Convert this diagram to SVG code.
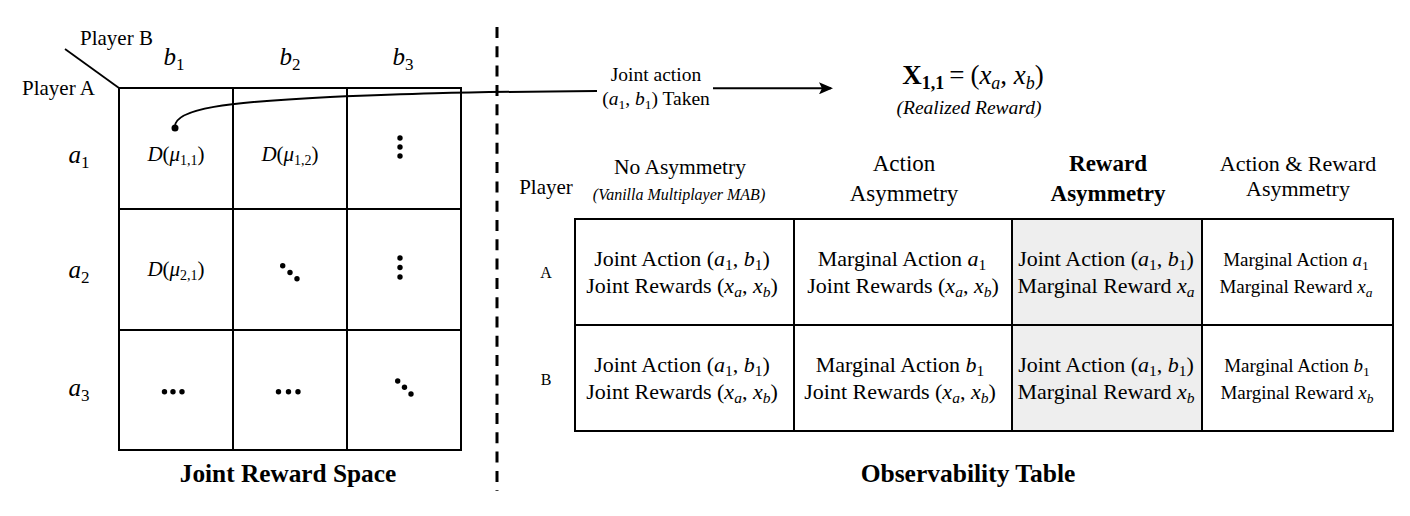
<svg xmlns="http://www.w3.org/2000/svg" width="1410" height="516" viewBox="0 0 1410 516">
<style>
.t{font-family:"Liberation Serif","Times New Roman",serif;fill:#000}
.m{font-family:"Liberation Serif","Times New Roman",serif;font-style:italic;fill:#000}
.ln{stroke:#000;stroke-width:2;fill:none}
.b{font-weight:bold}
</style>
<defs>
<marker id="ah" markerWidth="14" markerHeight="12" refX="12" refY="6" orient="auto" markerUnits="userSpaceOnUse">
<path d="M0,0 L14,6 L0,12 L3,6 Z" fill="#000"/>
</marker>
</defs>
<rect width="1410" height="516" fill="#fff"/>

<g id="divider">
<line x1="497" y1="27" x2="497" y2="491" stroke="#000" stroke-width="3" stroke-dasharray="11 8.3"/>
</g>

<g id="joint-reward-space">
<line x1="65" y1="49" x2="119" y2="88" stroke="#000" stroke-width="1.8"/>
<text class="t" x="80" y="45" font-size="21">Player B</text>
<text class="t" x="22" y="95" font-size="21">Player A</text>
<text class="m" x="174" y="65" font-size="25" text-anchor="middle">b<tspan font-style="normal" font-size="17" dy="5">1</tspan></text>
<text class="m" x="290" y="65" font-size="25" text-anchor="middle">b<tspan font-style="normal" font-size="17" dy="5">2</tspan></text>
<text class="m" x="403" y="65" font-size="25" text-anchor="middle">b<tspan font-style="normal" font-size="17" dy="5">3</tspan></text>
<text class="m" x="79" y="163" font-size="25" text-anchor="middle">a<tspan font-style="normal" font-size="17" dy="5">1</tspan></text>
<text class="m" x="79" y="278" font-size="25" text-anchor="middle">a<tspan font-style="normal" font-size="17" dy="5">2</tspan></text>
<text class="m" x="79" y="396" font-size="25" text-anchor="middle">a<tspan font-style="normal" font-size="17" dy="5">3</tspan></text>
<rect x="119" y="88" width="342" height="362" class="ln"/>
<line x1="233" y1="88" x2="233" y2="450" class="ln"/>
<line x1="347" y1="88" x2="347" y2="450" class="ln"/>
<line x1="119" y1="209" x2="461" y2="209" class="ln"/>
<line x1="119" y1="330" x2="461" y2="330" class="ln"/>
<text class="m" x="176" y="161" font-size="21" text-anchor="middle">D<tspan font-style="normal">(</tspan>μ<tspan font-style="normal" font-size="14" dy="4">1,1</tspan><tspan font-style="normal" dy="-4">)</tspan></text>
<text class="m" x="290" y="161" font-size="21" text-anchor="middle">D<tspan font-style="normal">(</tspan>μ<tspan font-style="normal" font-size="14" dy="4">1,2</tspan><tspan font-style="normal" dy="-4">)</tspan></text>
<text class="m" x="176" y="276" font-size="21" text-anchor="middle">D<tspan font-style="normal">(</tspan>μ<tspan font-style="normal" font-size="14" dy="4">2,1</tspan><tspan font-style="normal" dy="-4">)</tspan></text>
<g fill="#000">
<circle cx="400" cy="138" r="2.7"/><circle cx="400" cy="147" r="2.7"/><circle cx="400" cy="156" r="2.7"/>
<circle cx="282.7" cy="265.7" r="2.7"/><circle cx="290" cy="272.5" r="2.7"/><circle cx="297" cy="278.7" r="2.7"/>
<circle cx="400" cy="258" r="2.7"/><circle cx="400" cy="267.5" r="2.7"/><circle cx="400" cy="277" r="2.7"/>
<circle cx="164.5" cy="391.7" r="2.7"/><circle cx="173" cy="391.7" r="2.7"/><circle cx="182" cy="391.7" r="2.7"/>
<circle cx="278.5" cy="391.7" r="2.7"/><circle cx="288.5" cy="391.7" r="2.7"/><circle cx="298" cy="391.7" r="2.7"/>
<circle cx="397.7" cy="381" r="2.7"/><circle cx="404.5" cy="387.3" r="2.7"/><circle cx="411" cy="394" r="2.7"/>
</g>
<text class="t b" x="288" y="482" font-size="25.3" text-anchor="middle">Joint Reward Space</text>
</g>

<g id="connectors">
<circle cx="175" cy="128" r="3.5" fill="#000"/>
<path d="M175,128 C172,108 230,102 330,97 C400,94 450,92 597,91" class="ln"/>
<line x1="713" y1="88.3" x2="831" y2="88.3" stroke="#000" stroke-width="2" marker-end="url(#ah)"/>
</g>

<g id="action-label">
<text class="t" x="656" y="81" font-size="19.5" text-anchor="middle">Joint action</text>
<text class="t" x="656" y="105" font-size="19.5" text-anchor="middle"><tspan>(</tspan><tspan class="m">a</tspan><tspan font-size="13.5" dy="4">1</tspan><tspan dy="-4">, </tspan><tspan class="m">b</tspan><tspan font-size="13.5" dy="4">1</tspan><tspan dy="-4">) Taken</tspan></text>
</g>

<g id="realized-reward">
<text class="t" x="973" y="84" font-size="27" text-anchor="middle"><tspan font-weight="bold">X</tspan><tspan font-weight="bold" font-size="18" dy="5">1,1</tspan><tspan dy="-5" dx="5">=</tspan><tspan dx="6">(</tspan><tspan class="m">x</tspan><tspan class="m" font-size="18" dy="5">a</tspan><tspan dy="-5">, </tspan><tspan class="m">x</tspan><tspan class="m" font-size="18" dy="5">b</tspan><tspan dy="-5">)</tspan></text>
<text class="m" x="969" y="114" font-size="19.5" text-anchor="middle">(Realized Reward)</text>
</g>

<g id="observability-table">
<rect x="1012" y="219" width="190" height="212" fill="#eeeeee"/>
<rect x="575" y="219" width="818" height="212" class="ln"/>
<line x1="794" y1="219" x2="794" y2="431" class="ln"/>
<line x1="1012" y1="219" x2="1012" y2="431" class="ln"/>
<line x1="1202" y1="219" x2="1202" y2="431" class="ln"/>
<line x1="575" y1="325" x2="1393" y2="325" class="ln"/>

<text class="t" x="546" y="194" font-size="21" text-anchor="middle">Player</text>
<text class="t" x="546" y="278" font-size="16" text-anchor="middle">A</text>
<text class="t" x="546" y="385" font-size="16" text-anchor="middle">B</text>

<text class="t" x="680" y="174" font-size="21.5" text-anchor="middle">No Asymmetry</text>
<text class="m" x="679" y="200" font-size="16" text-anchor="middle">(Vanilla Multiplayer MAB)</text>
<text class="t" x="904" y="171" font-size="23" text-anchor="middle">Action</text>
<text class="t" x="904" y="201" font-size="23" text-anchor="middle">Asymmetry</text>
<text class="t b" x="1108" y="171" font-size="23" text-anchor="middle">Reward</text>
<text class="t b" x="1108" y="201" font-size="23" text-anchor="middle">Asymmetry</text>
<text class="t" x="1298" y="171" font-size="22" text-anchor="middle">Action &amp; Reward</text>
<text class="t" x="1298" y="196" font-size="22" text-anchor="middle">Asymmetry</text>

<g font-size="22">
<text class="t" x="682" y="266" text-anchor="middle">Joint Action (<tspan class="m">a</tspan><tspan font-size="15.5" dy="4">1</tspan><tspan dy="-4">, </tspan><tspan class="m">b</tspan><tspan font-size="15.5" dy="4">1</tspan><tspan dy="-4">)</tspan></text>
<text class="t" x="682" y="293" text-anchor="middle">Joint Rewards (<tspan class="m">x</tspan><tspan class="m" font-size="15.5" dy="4">a</tspan><tspan dy="-4">, </tspan><tspan class="m">x</tspan><tspan class="m" font-size="15.5" dy="4">b</tspan><tspan dy="-4">)</tspan></text>
<text class="t" x="682" y="372" text-anchor="middle">Joint Action (<tspan class="m">a</tspan><tspan font-size="15.5" dy="4">1</tspan><tspan dy="-4">, </tspan><tspan class="m">b</tspan><tspan font-size="15.5" dy="4">1</tspan><tspan dy="-4">)</tspan></text>
<text class="t" x="682" y="399" text-anchor="middle">Joint Rewards (<tspan class="m">x</tspan><tspan class="m" font-size="15.5" dy="4">a</tspan><tspan dy="-4">, </tspan><tspan class="m">x</tspan><tspan class="m" font-size="15.5" dy="4">b</tspan><tspan dy="-4">)</tspan></text>

<text class="t" x="902" y="266" text-anchor="middle">Marginal Action <tspan class="m">a</tspan><tspan font-size="15.5" dy="4">1</tspan></text>
<text class="t" x="903" y="293" text-anchor="middle">Joint Rewards (<tspan class="m">x</tspan><tspan class="m" font-size="15.5" dy="4">a</tspan><tspan dy="-4">, </tspan><tspan class="m">x</tspan><tspan class="m" font-size="15.5" dy="4">b</tspan><tspan dy="-4">)</tspan></text>
<text class="t" x="900" y="372" text-anchor="middle">Marginal Action <tspan class="m">b</tspan><tspan font-size="15.5" dy="4">1</tspan></text>
<text class="t" x="900" y="399" text-anchor="middle">Joint Rewards (<tspan class="m">x</tspan><tspan class="m" font-size="15.5" dy="4">a</tspan><tspan dy="-4">, </tspan><tspan class="m">x</tspan><tspan class="m" font-size="15.5" dy="4">b</tspan><tspan dy="-4">)</tspan></text>

<text class="t" x="1106" y="266" text-anchor="middle">Joint Action (<tspan class="m">a</tspan><tspan font-size="15.5" dy="4">1</tspan><tspan dy="-4">, </tspan><tspan class="m">b</tspan><tspan font-size="15.5" dy="4">1</tspan><tspan dy="-4">)</tspan></text>
<text class="t" x="1106" y="293" text-anchor="middle">Marginal Reward <tspan class="m">x</tspan><tspan class="m" font-size="15.5" dy="4">a</tspan></text>
<text class="t" x="1106" y="372" text-anchor="middle">Joint Action (<tspan class="m">a</tspan><tspan font-size="15.5" dy="4">1</tspan><tspan dy="-4">, </tspan><tspan class="m">b</tspan><tspan font-size="15.5" dy="4">1</tspan><tspan dy="-4">)</tspan></text>
<text class="t" x="1106" y="399" text-anchor="middle">Marginal Reward <tspan class="m">x</tspan><tspan class="m" font-size="15.5" dy="4">b</tspan></text>
</g>
<g font-size="19">
<text class="t" x="1296" y="266" text-anchor="middle">Marginal Action <tspan class="m">a</tspan><tspan font-size="13.5" dy="3.5">1</tspan></text>
<text class="t" x="1296" y="293" text-anchor="middle">Marginal Reward <tspan class="m">x</tspan><tspan class="m" font-size="13.5" dy="3.5">a</tspan></text>
<text class="t" x="1297" y="372" text-anchor="middle">Marginal Action <tspan class="m">b</tspan><tspan font-size="13.5" dy="3.5">1</tspan></text>
<text class="t" x="1297" y="399" text-anchor="middle">Marginal Reward <tspan class="m">x</tspan><tspan class="m" font-size="13.5" dy="3.5">b</tspan></text>
</g>
<text class="t b" x="968" y="482" font-size="25.5" text-anchor="middle">Observability Table</text>
</g>
</svg>
